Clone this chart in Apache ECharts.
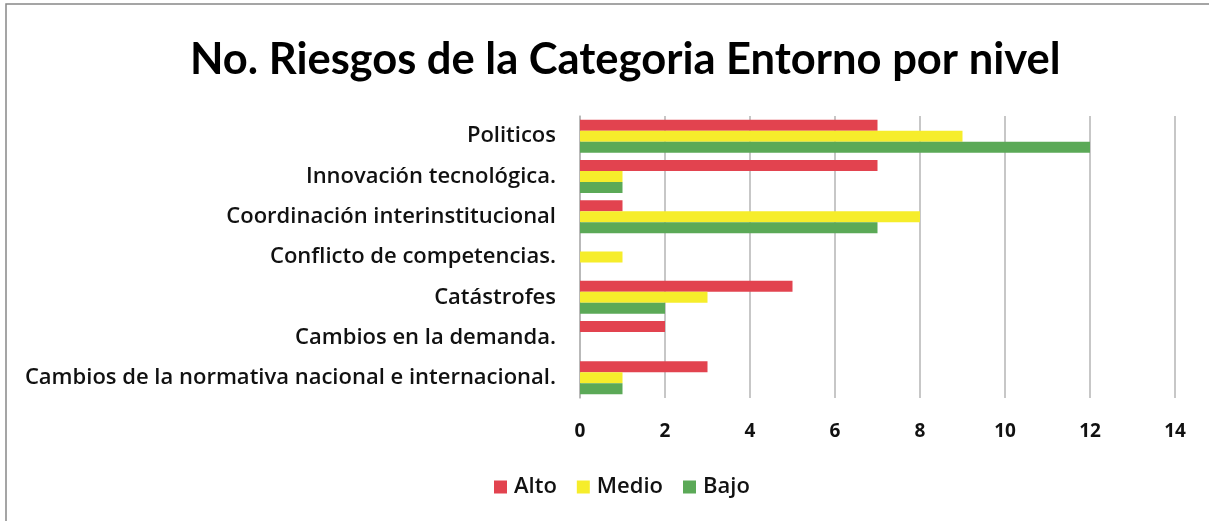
<!DOCTYPE html>
<html>
<head>
<meta charset="utf-8">
<script src="https://cdn.jsdelivr.net/npm/echarts@6/dist/echarts.min.js"></script>
<style>
    html, body { margin: 0; padding: 0; background: #fff; }
    #chart { width: 1209px; height: 521px; }
</style>
</head>
<body>
<div id="chart"></div>
<script>
const categorias = [
    'Politicos',
    'Innovación tecnológica.',
    'Coordinación interinstitucional',
    'Conflicto de competencias.',
    'Catástrofes',
    'Cambios en la demanda.',
    'Cambios de la normativa nacional e internacional.'
]
const alto = [7, 7, 1, 0, 5, 2, 3]
const medio = [9, 1, 8, 1, 3, 0, 1]
const bajo = [12, 1, 7, 0, 2, 0, 1]
const ticks = [0, 2, 4, 6, 8, 10, 12, 14]

const font = '"Open Sans", Lato, sans-serif'

echarts.init(document.getElementById('chart')).setOption({
    animation: false,
    title: {
        text: 'No. Riesgos de la Categoria Entorno por nivel',
        left: 185,
        top: 33,
        textStyle: {
            fontFamily: 'Lato, sans-serif',
            fontSize: 43.5,
            fontWeight: 'bold',
            color: '#000'
        }
    },
    legend: {
        bottom: 18,
        left: 489,
        itemWidth: 13,
        itemHeight: 13,
        itemGap: 20,
        icon: 'rect',
        textStyle: {
            fontFamily: font,
            fontSize: 22,
            fontWeight: 600,
            color: '#111',
            padding: [0, 0, 0, 2]
        }
    },
    grid: {
        left: 580,
        right: 34,
        top: 116,
        bottom: 123
    },
    // 外框
    graphic: [{
        type: 'rect',
        shape: { x: 6, y: 4, width: 1230, height: 540 },
        style: { fill: 'none', stroke: '#888', lineWidth: 1.5 }
    }],
    xAxis: {
        type: 'value',
        min: ticks[0],
        max: ticks[ticks.length - 1],
        interval: 2,
        axisLine: { show: false },
        axisTick: { show: false },
        axisLabel: {
            fontFamily: font,
            fontSize: 19,
            fontWeight: 'bold',
            color: '#111',
            margin: 24
        },
        splitLine: {
            show: true,
            lineStyle: { color: '#b5b5b5', width: 1.5 }
        }
    },
    yAxis: {
        type: 'category',
        inverse: true,
        data: categorias,
        axisLine: {
            show: true,
            lineStyle: { color: '#b5b5b5', width: 1.5 }
        },
        axisTick: { show: false },
        axisLabel: {
            fontFamily: font,
            fontSize: 22,
            fontWeight: 600,
            color: '#111',
            margin: 24
        }
    },
    series: [
        {
            name: 'Alto',
            type: 'bar',
            data: alto,
            barWidth: 11,
            barGap: '0%',
            itemStyle: { color: '#e2434f' }
        },
        {
            name: 'Medio',
            type: 'bar',
            data: medio,
            barWidth: 11,
            barGap: '0%',
            itemStyle: { color: '#f6ed2b' }
        },
        {
            name: 'Bajo',
            type: 'bar',
            data: bajo,
            barWidth: 11,
            barGap: '0%',
            itemStyle: { color: '#5ba957' }
        }
    ]
})
</script>
</body>
</html>
